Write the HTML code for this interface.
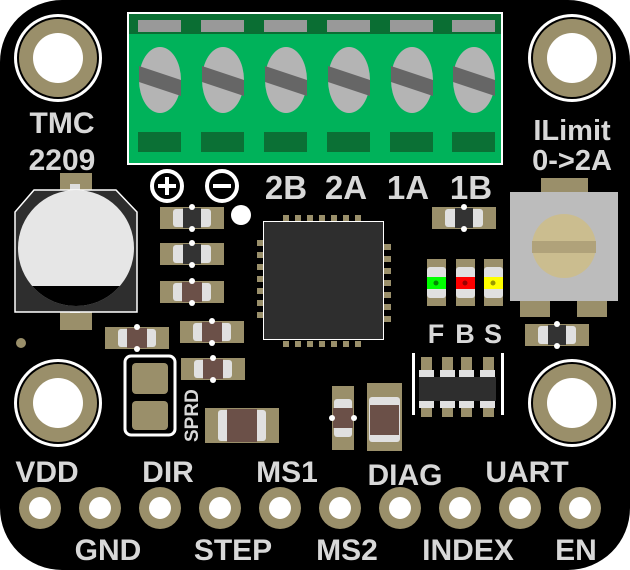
<!DOCTYPE html>
<html><head><style>
html,body{margin:0;padding:0;background:#fff}
svg{display:block}
text{font-family:"Liberation Sans",sans-serif;font-weight:bold;fill:#d8d8d8}
</style></head><body>
<svg width="630" height="570" viewBox="0 0 630 570" xmlns="http://www.w3.org/2000/svg">
<defs>
<g id="rdark"><rect x="-32" y="-11" width="64" height="22" fill="#9a8f6a"/><rect x="-19" y="-9" width="38" height="18" rx="3" fill="#e0e0e0"/><rect x="-9" y="-10" width="18" height="20" fill="#333"/><circle cx="0" cy="-11" r="3" fill="#fff"/><circle cx="0" cy="11" r="3" fill="#fff"/></g>
<g id="rbrown"><rect x="-32" y="-11" width="64" height="22" fill="#9a8f6a"/><rect x="-19" y="-9" width="38" height="18" rx="3" fill="#e0e0e0"/><rect x="-10" y="-10" width="20" height="20" fill="#6b5048"/><circle cx="0" cy="-11" r="3" fill="#fff"/><circle cx="0" cy="11" r="3" fill="#fff"/></g>
<g id="hole"><circle r="44" fill="#fff"/><circle r="41" fill="#000"/><circle r="39" fill="#9a8f6a"/><circle r="25" fill="#fff"/></g>
<g id="pin"><circle r="21" fill="#9a8f6a"/><circle r="11" fill="#fff"/></g>
</defs>
<rect x="0" y="0" width="630" height="570" rx="62" fill="#000"/>

<rect x="127" y="12" width="376" height="153" fill="#fff"/>
<rect x="129" y="14" width="372" height="149" fill="#00b25a"/>
<rect x="129" y="14" width="372" height="20" fill="#0a6e33"/>
<g id="tb">
<rect x="138" y="20" width="43" height="12" fill="#999"/>
<ellipse cx="160" cy="80" rx="21" ry="33" fill="#b4b4b4"/>
<polygon points="139,66 181,80 181,96 139,82" fill="#666"/>
<rect x="138" y="132" width="43" height="20" fill="#0b7035"/>
</g>
<use href="#tb" x="63"/><use href="#tb" x="126"/><use href="#tb" x="189"/><use href="#tb" x="252"/><use href="#tb" x="314"/>

<use href="#hole" x="58" y="58"/><use href="#hole" x="572" y="58"/>
<use href="#hole" x="58" y="403"/><use href="#hole" x="572" y="403"/>

<text x="62" y="133" font-size="30" text-anchor="middle">TMC</text>
<text x="62" y="170" font-size="30" text-anchor="middle">2209</text>
<text x="572" y="140" font-size="29" text-anchor="middle">ILimit</text>
<text x="572" y="170" font-size="29" text-anchor="middle">0-&gt;2A</text>

<circle cx="167" cy="186" r="15" fill="none" stroke="#fff" stroke-width="4"/>
<rect x="158" y="184" width="18" height="4" fill="#fff"/><rect x="165" y="177" width="4" height="18" fill="#fff"/>
<circle cx="222" cy="186" r="15" fill="none" stroke="#fff" stroke-width="4"/>
<rect x="213" y="184" width="18" height="4" fill="#fff"/>
<g font-size="33" text-anchor="middle">
<text x="286" y="199">2B</text>
<text x="346" y="199">2A</text>
<text x="408" y="199">1A</text>
<text x="471" y="199">1B</text>
</g>
<circle cx="241" cy="215" r="10" fill="#fff"/>

<rect x="60" y="173" width="32" height="20" fill="#9a8f6a"/><rect x="70" y="184" width="10" height="8" fill="#ddd"/>
<rect x="60" y="300" width="32" height="30" fill="#9a8f6a"/><rect x="70" y="305" width="10" height="8" fill="#ddd"/>
<polygon points="34,190 116,190 137,212 137,312 15,312 15,212" fill="#2e2e2e" stroke="#fff" stroke-width="1.5"/>
<clipPath id="cc"><circle cx="76" cy="248" r="58"/></clipPath>
<circle cx="76" cy="248" r="58" fill="#e6e6e6"/>
<rect x="10" y="286" width="130" height="30" fill="#000" clip-path="url(#cc)"/>
<circle cx="21" cy="343" r="5" fill="#9a8f6a"/>

<use href="#rdark" x="192" y="218"/>
<use href="#rdark" x="192" y="254"/>
<use href="#rbrown" x="192" y="292"/>
<use href="#rbrown" x="137" y="338"/>
<use href="#rbrown" x="212" y="332"/>
<use href="#rbrown" x="213" y="369"/>
<use href="#rdark" x="464" y="218"/>
<use href="#rdark" x="557" y="335"/>
<rect x="205" y="408" width="74" height="35" fill="#9a8f6a"/><rect x="218" y="410" width="48" height="31" rx="3" fill="#e0e0e0"/><rect x="227" y="409" width="30" height="33" fill="#6b5048"/>
<g transform="translate(343,418) rotate(90)"><use href="#rbrown"/></g>
<rect x="367" y="383" width="35" height="68" fill="#9a8f6a"/><rect x="369" y="397" width="31" height="45" rx="3" fill="#e0e0e0"/><rect x="370" y="405" width="29" height="30" fill="#6b5048"/>

<rect x="125" y="356" width="50" height="79" rx="6" fill="none" stroke="#fff" stroke-width="3"/>
<rect x="132" y="363" width="36" height="31" rx="4" fill="#9a8f6a"/>
<rect x="132" y="401" width="36" height="29" rx="4" fill="#9a8f6a"/>
<text transform="translate(198,442) rotate(-90)" font-size="19">SPRD</text>

<g fill="#9a8f6a">
<rect x="283" y="215" width="6" height="6"/><rect x="295" y="215" width="6" height="6"/><rect x="307" y="215" width="6" height="6"/><rect x="319" y="215" width="6" height="6"/><rect x="331" y="215" width="6" height="6"/><rect x="343" y="215" width="6" height="6"/><rect x="355" y="215" width="6" height="6"/>
<rect x="283" y="341" width="6" height="6"/><rect x="295" y="341" width="6" height="6"/><rect x="307" y="341" width="6" height="6"/><rect x="319" y="341" width="6" height="6"/><rect x="331" y="341" width="6" height="6"/><rect x="343" y="341" width="6" height="6"/><rect x="355" y="341" width="6" height="6"/>
<rect x="257" y="240" width="6" height="6"/><rect x="257" y="252" width="6" height="6"/><rect x="257" y="264" width="6" height="6"/><rect x="257" y="276" width="6" height="6"/><rect x="257" y="288" width="6" height="6"/><rect x="257" y="300" width="6" height="6"/><rect x="257" y="312" width="6" height="6"/>
<rect x="384" y="244" width="7" height="6"/><rect x="384" y="256" width="7" height="6"/><rect x="384" y="268" width="7" height="6"/><rect x="384" y="280" width="7" height="6"/><rect x="384" y="292" width="7" height="6"/><rect x="384" y="304" width="7" height="6"/><rect x="384" y="316" width="7" height="6"/>
</g>
<rect x="263" y="221" width="121" height="119" fill="#fff"/>
<rect x="264" y="222" width="119" height="117" fill="#2e2e2e"/>

<g>
<rect x="427" y="259" width="19" height="47" fill="#9a8f6a"/><rect x="427" y="267" width="19" height="31" rx="3" fill="#e0e0e0"/><rect x="427" y="277" width="19" height="12" fill="#0f0"/><circle cx="436" cy="283" r="2.5" fill="#080"/>
<rect x="456" y="259" width="19" height="47" fill="#9a8f6a"/><rect x="456" y="267" width="19" height="31" rx="3" fill="#e0e0e0"/><rect x="456" y="277" width="19" height="12" fill="#f00"/><circle cx="465" cy="283" r="2.5" fill="#900"/>
<rect x="484" y="259" width="19" height="47" fill="#9a8f6a"/><rect x="484" y="267" width="19" height="31" rx="3" fill="#e0e0e0"/><rect x="484" y="277" width="19" height="12" fill="#ff0"/><circle cx="493" cy="283" r="2.5" fill="#990"/>
</g>
<g font-size="27" text-anchor="middle">
<text x="436" y="343">F</text>
<text x="465" y="343">B</text>
<text x="493" y="343">S</text>
</g>

<rect x="541" y="178" width="47" height="16" fill="#9a8f6a"/>
<rect x="520" y="300" width="30" height="17" fill="#9a8f6a"/><rect x="577" y="300" width="30" height="17" fill="#9a8f6a"/>
<rect x="510" y="192" width="108" height="109" fill="#bcbcbc"/>
<circle cx="564" cy="246" r="32" fill="#cbbd8f"/>
<rect x="532" y="241" width="64" height="12" fill="#b0a27a"/>

<rect x="412" y="353" width="3" height="62" fill="#fff"/><rect x="501" y="353" width="3" height="62" fill="#fff"/>
<g fill="#9a8f6a"><rect x="421" y="357" width="11" height="60"/><rect x="442" y="357" width="11" height="60"/><rect x="461" y="357" width="11" height="60"/><rect x="483" y="357" width="11" height="60"/></g>
<g fill="#e0e0e0"><rect x="419" y="370" width="15" height="8"/><rect x="440" y="370" width="15" height="8"/><rect x="459" y="370" width="15" height="8"/><rect x="480" y="370" width="15" height="8"/>
<rect x="419" y="400" width="15" height="8"/><rect x="440" y="400" width="15" height="8"/><rect x="459" y="400" width="15" height="8"/><rect x="480" y="400" width="15" height="8"/></g>
<rect x="419" y="377" width="77" height="24" fill="#2e2e2e"/>

<use href="#pin" x="40" y="508"/><use href="#pin" x="100" y="508"/><use href="#pin" x="160" y="508"/><use href="#pin" x="220" y="508"/><use href="#pin" x="280" y="508"/>
<use href="#pin" x="340" y="508"/><use href="#pin" x="400" y="508"/><use href="#pin" x="460" y="508"/><use href="#pin" x="520" y="508"/><use href="#pin" x="580" y="508"/>
<g font-size="30" text-anchor="middle">
<text x="47" y="482">VDD</text><text x="168" y="482">DIR</text><text x="287" y="482">MS1</text><text x="405" y="485">DIAG</text><text x="527" y="482">UART</text>
<text x="108" y="560">GND</text><text x="233" y="560">STEP</text><text x="347" y="560">MS2</text><text x="468" y="560">INDEX</text><text x="576" y="560">EN</text>
</g>
</svg>
</body></html>
